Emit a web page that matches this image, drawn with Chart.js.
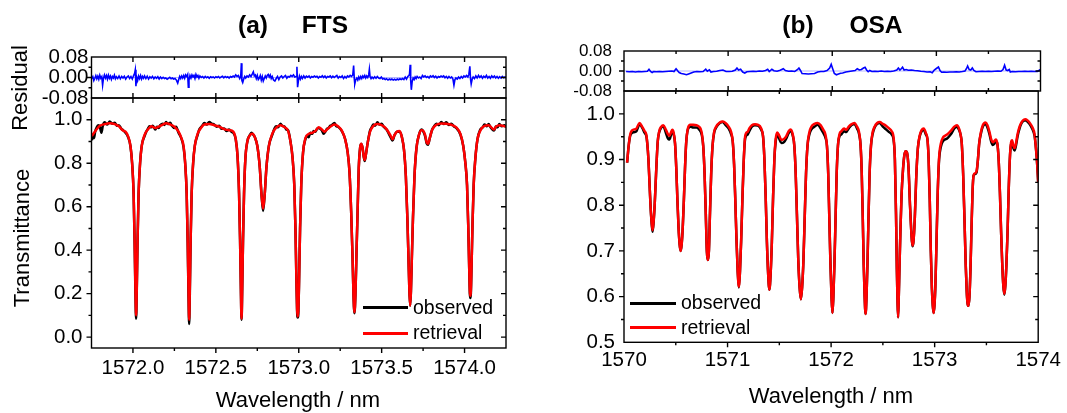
<!DOCTYPE html>
<html>
<head>
<meta charset="utf-8">
<script src="https://cdn.jsdelivr.net/npm/chart.js@4.4.1/dist/chart.umd.min.js"></script>
<style>
  body { margin: 0; background: #fff; }
  #page { position: relative; width: 1067px; height: 413px; font-family: "Liberation Sans", Arial, sans-serif; color: #000; overflow: hidden; }
  #page canvas { position: absolute; left: 0; top: 0; }
  .txt { position: absolute; white-space: pre; transform: translate(-50%, -50%); line-height: 1; }
  .vert { transform: translate(-50%, -50%) rotate(-90deg); }
  .title { font-weight: bold; font-size: 24.5px; }
  .axis { font-size: 22px; }
  .legtxt { position: absolute; font-size: 19.5px; line-height: 1; transform: translateY(-50%); white-space: pre; }
  .legln { position: absolute; height: 3px; }
</style>
</head>
<body>
<div id="page">
  <canvas id="ftsRes" width="1067" height="413"></canvas>
  <canvas id="ftsTr" width="1067" height="413"></canvas>
  <canvas id="osaRes" width="1067" height="413"></canvas>
  <canvas id="osaTr" width="1067" height="413"></canvas>

  <div class="txt title" style="left:253px;top:25px">(a)</div>
  <div class="txt title" style="left:325px;top:25px">FTS</div>
  <div class="txt title" style="left:798px;top:25px">(b)</div>
  <div class="txt title" style="left:876px;top:25px">OSA</div>

  <div class="txt axis vert" style="left:20px;top:88px">Residual</div>
  <div class="txt axis vert" style="left:22px;top:238px">Transmittance</div>
  <div class="txt axis" style="left:298px;top:400px">Wavelength / nm</div>
  <div class="txt axis" style="left:831px;top:396px">Wavelength / nm</div>

  <div class="legln" style="left:363px;top:306px;width:45px;background:#000"></div>
  <div class="legtxt" style="left:413px;top:308px">observed</div>
  <div class="legln" style="left:363px;top:332px;width:45px;background:#f00"></div>
  <div class="legtxt" style="left:413px;top:333px">retrieval</div>

  <div class="legln" style="left:630px;top:302px;width:46px;background:#000"></div>
  <div class="legtxt" style="left:681px;top:303px">observed</div>
  <div class="legln" style="left:630px;top:326px;width:46px;background:#f00"></div>
  <div class="legtxt" style="left:681px;top:327.5px">retrieval</div>
</div>

<script>
// ---- tick labels ----
const ftsWlTicks = [1572.0, 1572.5, 1573.0, 1573.5, 1574.0];
const osaWlTicks = [1570, 1571, 1572, 1573, 1574];
const ftsTrTicks = [0.0, 0.2, 0.4, 0.6, 0.8, 1.0];
const osaTrTicks = [0.5, 0.6, 0.7, 0.8, 0.9, 1.0];
const resTicks = [-0.08, 0.0, 0.08];

// ---- (a) FTS, [wavelength nm, value] ----
const ftsRetrieval = [
  [1571.752,0.925],[1571.78,0.955],[1571.80,0.972],[1571.83,0.980],[1571.86,0.984],[1571.89,0.980],
  [1571.915,0.970],[1571.94,0.950],[1571.955,0.945],[1571.97,0.925],[1571.985,0.88],[1571.995,0.80],
  [1572.004,0.66],[1572.010,0.45],[1572.015,0.22],[1572.019,0.10],[1572.023,0.22],[1572.028,0.45],
  [1572.034,0.66],[1572.043,0.80],[1572.053,0.88],[1572.07,0.93],[1572.09,0.955],[1572.11,0.970],
  [1572.135,0.962],[1572.155,0.968],[1572.18,0.978],[1572.20,0.984],[1572.225,0.978],[1572.25,0.968],
  [1572.275,0.945],[1572.29,0.92],[1572.305,0.88],[1572.315,0.80],[1572.324,0.66],[1572.330,0.45],
  [1572.335,0.22],[1572.339,0.08],[1572.343,0.22],[1572.348,0.45],[1572.354,0.66],[1572.363,0.80],
  [1572.373,0.88],[1572.39,0.935],[1572.41,0.962],[1572.43,0.978],[1572.46,0.980],[1572.49,0.975],
  [1572.52,0.968],[1572.55,0.957],[1572.58,0.952],[1572.605,0.945],[1572.62,0.91],[1572.631,0.83],
  [1572.640,0.66],[1572.646,0.45],[1572.651,0.22],[1572.655,0.085],[1572.659,0.22],[1572.664,0.45],
  [1572.670,0.66],[1572.678,0.82],[1572.690,0.90],[1572.705,0.928],[1572.72,0.935],[1572.735,0.92],
  [1572.75,0.88],[1572.765,0.78],[1572.775,0.66],[1572.785,0.59],[1572.795,0.66],[1572.805,0.78],
  [1572.82,0.88],[1572.84,0.935],[1572.865,0.965],[1572.89,0.975],[1572.915,0.965],[1572.935,0.95],
  [1572.95,0.90],[1572.962,0.83],[1572.973,0.70],[1572.980,0.50],[1572.986,0.26],[1572.990,0.13],
  [1572.994,0.095],[1572.998,0.13],[1573.002,0.26],[1573.008,0.50],[1573.015,0.70],[1573.026,0.85],
  [1573.04,0.915],[1573.06,0.935],[1573.08,0.94],[1573.10,0.948],[1573.12,0.965],[1573.14,0.955],
  [1573.155,0.945],[1573.17,0.955],[1573.19,0.968],[1573.215,0.978],[1573.24,0.968],[1573.26,0.95],
  [1573.28,0.91],[1573.295,0.85],[1573.306,0.76],[1573.316,0.58],[1573.324,0.38],[1573.330,0.20],
  [1573.336,0.115],[1573.342,0.20],[1573.348,0.38],[1573.355,0.58],[1573.362,0.78],[1573.37,0.87],
  [1573.377,0.89],[1573.385,0.87],[1573.392,0.83],[1573.398,0.815],[1573.405,0.84],[1573.415,0.89],
  [1573.43,0.945],[1573.45,0.972],[1573.475,0.980],[1573.50,0.975],[1573.52,0.965],[1573.54,0.945],
  [1573.555,0.925],[1573.566,0.91],[1573.578,0.93],[1573.592,0.945],[1573.608,0.948],[1573.622,0.92],
  [1573.635,0.86],[1573.646,0.74],[1573.655,0.55],[1573.662,0.36],[1573.667,0.22],[1573.672,0.145],
  [1573.677,0.22],[1573.682,0.36],[1573.689,0.55],[1573.698,0.74],[1573.710,0.87],[1573.725,0.93],
  [1573.74,0.952],[1573.75,0.95],[1573.762,0.93],[1573.772,0.895],[1573.78,0.89],[1573.79,0.915],
  [1573.805,0.955],[1573.83,0.977],[1573.86,0.983],[1573.89,0.982],[1573.92,0.977],[1573.95,0.965],
  [1573.975,0.935],[1573.992,0.88],[1574.005,0.80],[1574.015,0.70],[1574.022,0.52],[1574.028,0.32],
  [1574.032,0.21],[1574.035,0.19],[1574.038,0.21],[1574.042,0.32],[1574.048,0.52],[1574.055,0.70],
  [1574.065,0.82],[1574.078,0.91],[1574.095,0.95],[1574.12,0.972],[1574.145,0.975],[1574.165,0.962],
  [1574.178,0.955],[1574.19,0.968],[1574.21,0.975],[1574.23,0.972],[1574.25,0.968]
];

const ftsObserved = [
  [1571.752,0.905],[1571.758,0.93],[1571.765,0.915],[1571.772,0.945],[1571.78,0.962],[1571.79,0.975],
  [1571.80,0.968],[1571.81,0.94],[1571.818,0.972],[1571.83,0.988],[1571.845,0.978],[1571.86,0.992],
  [1571.875,0.982],[1571.89,0.986],[1571.905,0.972],[1571.915,0.975],[1571.93,0.958],[1571.94,0.952],
  [1571.955,0.94],[1571.97,0.922],[1571.985,0.878],[1571.995,0.80],[1572.004,0.66],[1572.010,0.44],
  [1572.015,0.20],[1572.019,0.085],[1572.023,0.21],[1572.028,0.45],[1572.034,0.66],[1572.043,0.80],
  [1572.053,0.88],[1572.07,0.925],[1572.08,0.945],[1572.09,0.958],[1572.10,0.97],[1572.11,0.965],
  [1572.12,0.972],[1572.135,0.955],[1572.145,0.968],[1572.155,0.962],[1572.165,0.975],[1572.18,0.982],
  [1572.19,0.976],[1572.20,0.99],[1572.21,0.98],[1572.225,0.986],[1572.235,0.972],[1572.25,0.962],
  [1572.26,0.968],[1572.275,0.94],[1572.29,0.918],[1572.305,0.875],[1572.315,0.80],[1572.324,0.66],
  [1572.330,0.44],[1572.335,0.20],[1572.339,0.06],[1572.343,0.20],[1572.348,0.45],[1572.354,0.66],
  [1572.363,0.80],[1572.373,0.88],[1572.39,0.93],[1572.40,0.955],[1572.41,0.965],[1572.42,0.975],
  [1572.43,0.985],[1572.445,0.978],[1572.46,0.99],[1572.475,0.982],[1572.49,0.978],[1572.505,0.968],
  [1572.52,0.972],[1572.535,0.958],[1572.55,0.96],[1572.565,0.948],[1572.58,0.955],[1572.595,0.944],
  [1572.605,0.94],[1572.62,0.91],[1572.631,0.83],[1572.640,0.66],[1572.646,0.45],[1572.651,0.22],
  [1572.655,0.08],[1572.659,0.22],[1572.664,0.45],[1572.670,0.66],[1572.678,0.82],[1572.690,0.90],
  [1572.705,0.93],[1572.715,0.94],[1572.725,0.932],[1572.735,0.92],[1572.75,0.88],[1572.765,0.78],
  [1572.775,0.66],[1572.785,0.58],[1572.795,0.66],[1572.805,0.78],[1572.82,0.88],[1572.84,0.93],
  [1572.855,0.962],[1572.865,0.97],[1572.875,0.965],[1572.89,0.982],[1572.90,0.972],[1572.915,0.968],
  [1572.925,0.955],[1572.935,0.952],[1572.95,0.90],[1572.962,0.83],[1572.973,0.70],[1572.980,0.50],
  [1572.986,0.26],[1572.990,0.12],[1572.994,0.09],[1572.998,0.12],[1573.002,0.26],[1573.008,0.50],
  [1573.015,0.70],[1573.026,0.85],[1573.04,0.91],[1573.05,0.925],[1573.06,0.92],[1573.07,0.94],
  [1573.08,0.935],[1573.09,0.948],[1573.10,0.945],[1573.11,0.958],[1573.12,0.962],[1573.13,0.958],
  [1573.14,0.95],[1573.15,0.935],[1573.16,0.945],[1573.17,0.958],[1573.18,0.962],[1573.19,0.972],
  [1573.20,0.975],[1573.215,0.985],[1573.225,0.972],[1573.24,0.966],[1573.26,0.948],[1573.28,0.91],
  [1573.295,0.85],[1573.306,0.76],[1573.316,0.58],[1573.324,0.38],[1573.330,0.20],[1573.336,0.11],
  [1573.342,0.20],[1573.348,0.38],[1573.355,0.58],[1573.362,0.78],[1573.37,0.87],[1573.377,0.888],
  [1573.385,0.87],[1573.392,0.83],[1573.398,0.81],[1573.405,0.84],[1573.415,0.89],[1573.43,0.95],
  [1573.44,0.965],[1573.45,0.978],[1573.46,0.972],[1573.475,0.988],[1573.485,0.978],[1573.50,0.982],
  [1573.51,0.97],[1573.52,0.962],[1573.53,0.955],[1573.54,0.94],[1573.555,0.918],[1573.566,0.905],
  [1573.578,0.93],[1573.592,0.945],[1573.608,0.946],[1573.622,0.92],[1573.635,0.86],[1573.646,0.74],
  [1573.655,0.55],[1573.662,0.36],[1573.667,0.22],[1573.672,0.145],[1573.677,0.22],[1573.682,0.36],
  [1573.689,0.55],[1573.698,0.74],[1573.710,0.87],[1573.725,0.93],[1573.74,0.955],[1573.75,0.948],
  [1573.762,0.925],[1573.772,0.89],[1573.78,0.885],[1573.79,0.915],[1573.805,0.955],[1573.815,0.968],
  [1573.83,0.982],[1573.845,0.975],[1573.86,0.99],[1573.875,0.98],[1573.89,0.988],[1573.905,0.976],
  [1573.92,0.982],[1573.935,0.97],[1573.95,0.962],[1573.975,0.932],[1573.992,0.88],[1574.005,0.80],
  [1574.015,0.70],[1574.022,0.52],[1574.028,0.32],[1574.032,0.2],[1574.035,0.18],[1574.038,0.2],
  [1574.042,0.32],[1574.048,0.52],[1574.055,0.70],[1574.065,0.82],[1574.078,0.91],[1574.095,0.955],
  [1574.11,0.965],[1574.12,0.978],[1574.135,0.97],[1574.145,0.98],[1574.155,0.968],[1574.165,0.958],
  [1574.178,0.95],[1574.19,0.97],[1574.20,0.965],[1574.21,0.98],[1574.225,0.97],[1574.24,0.975],[1574.25,0.966]
];

const ftsResidual = [
  [1571.752,-0.004],[1571.758,0.003],[1571.764,-0.012],[1571.770,-0.003],[1571.776,0.007],[1571.782,-0.005],
  [1571.788,0.005],[1571.794,-0.007],[1571.800,0.009],[1571.806,-0.003],[1571.812,0.003],[1571.817,-0.030],
  [1571.822,-0.004],[1571.828,0.010],[1571.834,-0.002],[1571.840,0.008],[1571.846,-0.006],[1571.852,0.009],
  [1571.858,-0.003],[1571.864,0.006],[1571.870,-0.007],[1571.876,0.004],[1571.882,-0.002],[1571.888,0.009],
  [1571.894,-0.005],[1571.900,0.003],[1571.908,-0.004],[1571.916,0.006],[1571.924,-0.005],[1571.932,0.004],
  [1571.940,-0.002],[1571.948,0.005],[1571.956,-0.006],[1571.964,0.002],[1571.972,0.006],[1571.980,-0.004],
  [1571.988,0.004],[1571.996,-0.006],[1572.004,0.008],[1572.010,0.016],[1572.014,0.030],[1572.018,-0.034],
  [1572.022,0.002],[1572.028,-0.012],[1572.034,0.006],[1572.040,-0.004],[1572.046,0.008],[1572.052,-0.006],
  [1572.058,0.004],[1572.064,-0.003],[1572.070,0.006],[1572.078,-0.004],[1572.086,0.005],[1572.094,-0.006],
  [1572.102,0.003],[1572.110,-0.002],[1572.118,0.004],[1572.126,-0.005],[1572.134,0.002],[1572.142,-0.003],
  [1572.150,0.003],[1572.158,-0.006],[1572.166,0.002],[1572.174,-0.004],[1572.182,0.001],[1572.190,-0.004],
  [1572.198,-0.002],[1572.206,-0.007],[1572.214,-0.003],[1572.222,0.001],[1572.230,-0.005],[1572.238,-0.002],
  [1572.246,-0.006],[1572.254,-0.004],[1572.262,-0.010],[1572.270,-0.022],[1572.276,-0.008],[1572.282,0.004],
  [1572.288,-0.004],[1572.294,0.006],[1572.300,-0.002],[1572.306,0.008],[1572.312,-0.003],[1572.318,0.010],
  [1572.324,0.004],[1572.330,0.012],[1572.334,-0.038],[1572.338,-0.010],[1572.344,0.008],[1572.350,-0.002],
  [1572.356,0.010],[1572.362,0.002],[1572.368,0.008],[1572.374,-0.004],[1572.380,0.012],[1572.386,0.002],
  [1572.392,0.008],[1572.398,-0.003],[1572.404,0.006],[1572.412,0.000],[1572.420,0.004],[1572.428,-0.002],
  [1572.436,0.004],[1572.444,-0.001],[1572.452,0.003],[1572.460,-0.003],[1572.468,0.003],[1572.476,0.000],
  [1572.484,0.002],[1572.492,-0.002],[1572.500,0.003],[1572.508,0.000],[1572.516,0.004],[1572.524,-0.002],
  [1572.532,0.002],[1572.540,0.005],[1572.548,-0.001],[1572.556,0.004],[1572.564,0.000],[1572.572,0.003],
  [1572.580,-0.002],[1572.588,0.004],[1572.596,0.001],[1572.604,0.006],[1572.612,0.002],[1572.620,0.010],
  [1572.628,0.004],[1572.636,0.008],[1572.644,-0.004],[1572.650,0.004],[1572.654,0.056],[1572.657,-0.012],
  [1572.662,-0.020],[1572.668,-0.006],[1572.674,0.004],[1572.680,-0.002],[1572.688,0.006],[1572.696,0.002],
  [1572.704,0.010],[1572.712,0.004],[1572.720,0.014],[1572.726,0.022],[1572.732,0.006],[1572.738,0.010],
  [1572.744,-0.004],[1572.750,0.008],[1572.756,-0.008],[1572.762,-0.002],[1572.768,0.008],[1572.774,-0.010],
  [1572.780,0.004],[1572.786,-0.014],[1572.792,-0.004],[1572.798,0.006],[1572.804,-0.002],[1572.810,0.008],
  [1572.816,0.012],[1572.822,0.002],[1572.828,0.010],[1572.834,-0.004],[1572.840,0.004],[1572.848,-0.010],
  [1572.856,-0.014],[1572.864,-0.004],[1572.872,0.004],[1572.880,-0.008],[1572.888,0.002],[1572.896,0.006],
  [1572.904,-0.002],[1572.912,0.004],[1572.920,0.008],[1572.928,-0.003],[1572.936,0.004],[1572.944,0.002],
  [1572.952,0.008],[1572.960,0.004],[1572.968,0.010],[1572.976,0.002],[1572.984,0.004],[1572.989,0.042],
  [1572.993,-0.038],[1572.998,-0.012],[1573.004,0.006],[1573.010,-0.006],[1573.016,0.004],[1573.022,-0.004],
  [1573.030,0.006],[1573.038,-0.002],[1573.046,0.005],[1573.054,0.001],[1573.062,0.006],[1573.070,-0.002],
  [1573.078,0.004],[1573.086,0.001],[1573.094,0.006],[1573.102,0.002],[1573.110,0.005],[1573.118,-0.002],
  [1573.126,0.004],[1573.134,0.001],[1573.142,0.007],[1573.150,0.000],[1573.158,0.006],[1573.166,-0.002],
  [1573.174,0.004],[1573.182,0.002],[1573.190,0.006],[1573.198,-0.001],[1573.206,0.005],[1573.214,0.000],
  [1573.222,0.004],[1573.230,0.008],[1573.238,-0.002],[1573.246,0.004],[1573.254,0.000],[1573.262,0.006],
  [1573.270,-0.004],[1573.278,0.004],[1573.286,-0.002],[1573.294,0.006],[1573.302,0.002],[1573.310,0.008],
  [1573.318,0.004],[1573.326,0.010],[1573.331,0.047],[1573.335,-0.006],[1573.338,-0.025],[1573.344,-0.008],
  [1573.350,-0.002],[1573.356,-0.010],[1573.362,0.002],[1573.368,-0.006],[1573.374,0.004],[1573.380,-0.004],
  [1573.386,0.006],[1573.392,0.000],[1573.398,0.008],[1573.404,-0.002],[1573.410,0.006],[1573.416,0.000],
  [1573.422,0.010],[1573.426,0.032],[1573.430,0.004],[1573.436,-0.004],[1573.442,0.002],[1573.450,-0.004],
  [1573.458,0.003],[1573.466,-0.003],[1573.474,0.004],[1573.482,-0.002],[1573.490,-0.004],[1573.498,0.002],
  [1573.506,-0.006],[1573.514,-0.004],[1573.522,-0.008],[1573.530,-0.005],[1573.538,-0.010],[1573.546,-0.006],
  [1573.554,-0.009],[1573.562,-0.006],[1573.570,-0.010],[1573.578,-0.007],[1573.586,-0.010],[1573.594,-0.006],
  [1573.602,-0.009],[1573.610,-0.005],[1573.618,-0.008],[1573.626,-0.004],[1573.634,-0.008],[1573.642,0.002],
  [1573.650,-0.006],[1573.658,0.004],[1573.664,0.008],[1573.668,0.012],[1573.672,0.050],[1573.675,-0.010],
  [1573.679,-0.048],[1573.684,-0.016],[1573.690,-0.002],[1573.696,-0.008],[1573.702,0.002],[1573.708,-0.004],
  [1573.714,0.004],[1573.722,-0.002],[1573.730,0.002],[1573.738,-0.004],[1573.746,0.008],[1573.754,0.002],
  [1573.762,0.006],[1573.770,0.000],[1573.778,0.004],[1573.786,-0.002],[1573.794,0.006],[1573.802,0.002],
  [1573.810,0.007],[1573.818,0.000],[1573.826,0.005],[1573.834,-0.002],[1573.842,0.004],[1573.850,0.001],
  [1573.858,0.006],[1573.866,0.002],[1573.874,0.006],[1573.882,-0.001],[1573.890,0.004],[1573.898,-0.003],
  [1573.906,0.004],[1573.914,-0.002],[1573.922,0.002],[1573.930,-0.006],[1573.936,-0.030],[1573.942,-0.008],
  [1573.948,-0.002],[1573.956,-0.006],[1573.964,0.002],[1573.972,-0.004],[1573.980,0.004],[1573.988,-0.002],
  [1573.996,0.006],[1574.004,0.002],[1574.012,0.008],[1574.020,0.002],[1574.026,0.012],[1574.032,0.044],
  [1574.036,-0.006],[1574.040,-0.025],[1574.046,-0.006],[1574.052,0.002],[1574.060,-0.004],[1574.068,0.006],
  [1574.076,-0.002],[1574.084,0.008],[1574.092,0.000],[1574.100,0.006],[1574.108,-0.003],[1574.116,0.005],
  [1574.124,0.000],[1574.132,0.008],[1574.140,-0.002],[1574.148,0.004],[1574.156,-0.003],[1574.164,0.006],
  [1574.172,0.000],[1574.180,0.006],[1574.188,-0.002],[1574.196,0.004],[1574.204,-0.003],[1574.212,0.003],
  [1574.220,-0.002],[1574.228,0.004],[1574.236,-0.001],[1574.244,0.002],[1574.250,-0.001]
];

// ---- (b) OSA, [wavelength nm, value] ----
const osaRetrieval = [
  [1570.03,0.893],[1570.045,0.93],[1570.06,0.955],[1570.075,0.963],[1570.10,0.966],[1570.12,0.968],
  [1570.15,0.980],[1570.175,0.972],[1570.20,0.962],[1570.215,0.955],[1570.225,0.935],[1570.236,0.90],
  [1570.246,0.85],[1570.256,0.80],[1570.266,0.765],[1570.276,0.745],[1570.286,0.765],[1570.296,0.80],
  [1570.306,0.85],[1570.316,0.90],[1570.326,0.94],[1570.34,0.962],[1570.36,0.972],[1570.38,0.975],
  [1570.405,0.965],[1570.425,0.955],[1570.44,0.952],[1570.455,0.960],[1570.467,0.965],[1570.48,0.958],
  [1570.493,0.935],[1570.505,0.88],[1570.516,0.81],[1570.527,0.75],[1570.537,0.715],[1570.547,0.70],
  [1570.557,0.715],[1570.567,0.75],[1570.578,0.81],[1570.589,0.88],[1570.60,0.935],[1570.617,0.968],
  [1570.64,0.976],[1570.67,0.976],[1570.70,0.975],[1570.725,0.972],[1570.75,0.96],[1570.765,0.93],
  [1570.778,0.87],[1570.79,0.78],[1570.80,0.70],[1570.81,0.68],[1570.82,0.70],[1570.83,0.78],
  [1570.842,0.87],[1570.855,0.93],[1570.87,0.96],[1570.89,0.972],[1570.925,0.981],[1570.955,0.983],
  [1570.98,0.98],[1571.01,0.972],[1571.035,0.96],[1571.05,0.94],[1571.063,0.89],[1571.075,0.81],
  [1571.087,0.72],[1571.098,0.655],[1571.109,0.622],[1571.12,0.655],[1571.131,0.72],[1571.143,0.81],
  [1571.155,0.89],[1571.167,0.945],[1571.18,0.958],[1571.195,0.961],[1571.21,0.968],[1571.235,0.975],
  [1571.265,0.977],[1571.295,0.976],[1571.325,0.968],[1571.343,0.95],[1571.356,0.90],[1571.368,0.82],
  [1571.38,0.72],[1571.392,0.65],[1571.404,0.615],[1571.416,0.65],[1571.428,0.72],[1571.44,0.82],
  [1571.452,0.90],[1571.465,0.945],[1571.48,0.959],[1571.50,0.952],[1571.52,0.943],[1571.545,0.945],
  [1571.565,0.95],[1571.59,0.962],[1571.61,0.966],[1571.63,0.955],[1571.645,0.93],[1571.658,0.87],
  [1571.67,0.78],[1571.683,0.68],[1571.696,0.62],[1571.708,0.594],[1571.72,0.62],[1571.733,0.68],
  [1571.746,0.78],[1571.758,0.87],[1571.772,0.93],[1571.79,0.96],[1571.81,0.972],[1571.84,0.978],
  [1571.87,0.98],[1571.90,0.975],[1571.925,0.965],[1571.945,0.955],[1571.96,0.93],[1571.972,0.87],
  [1571.983,0.77],[1571.994,0.67],[1572.004,0.60],[1572.013,0.564],[1572.022,0.60],[1572.032,0.67],
  [1572.043,0.77],[1572.054,0.87],[1572.066,0.93],[1572.08,0.955],[1572.10,0.962],[1572.125,0.968],
  [1572.145,0.965],[1572.17,0.972],[1572.195,0.977],[1572.225,0.98],[1572.25,0.972],[1572.27,0.96],
  [1572.285,0.93],[1572.296,0.87],[1572.306,0.77],[1572.315,0.67],[1572.324,0.60],[1572.333,0.562],
  [1572.342,0.60],[1572.351,0.67],[1572.361,0.77],[1572.372,0.87],[1572.385,0.93],[1572.40,0.958],
  [1572.42,0.972],[1572.445,0.98],[1572.47,0.982],[1572.50,0.978],[1572.53,0.974],[1572.56,0.968],
  [1572.585,0.962],[1572.605,0.945],[1572.616,0.90],[1572.627,0.78],[1572.635,0.66],[1572.641,0.595],
  [1572.647,0.555],[1572.653,0.595],[1572.66,0.66],[1572.669,0.74],[1572.68,0.82],[1572.695,0.88],
  [1572.708,0.91],[1572.72,0.918],[1572.733,0.915],[1572.748,0.88],[1572.762,0.80],[1572.775,0.74],
  [1572.785,0.712],[1572.795,0.72],[1572.808,0.77],[1572.822,0.86],[1572.838,0.925],[1572.855,0.952],
  [1572.875,0.965],[1572.895,0.968],[1572.915,0.958],[1572.93,0.945],[1572.942,0.90],[1572.953,0.81],
  [1572.963,0.70],[1572.973,0.62],[1572.982,0.58],[1572.99,0.564],[1572.998,0.58],[1573.008,0.63],
  [1573.018,0.72],[1573.03,0.83],[1573.043,0.905],[1573.06,0.935],[1573.08,0.948],[1573.10,0.952],
  [1573.12,0.955],[1573.145,0.96],[1573.165,0.965],[1573.19,0.972],[1573.215,0.975],[1573.235,0.968],
  [1573.25,0.955],[1573.262,0.935],[1573.275,0.87],[1573.288,0.77],[1573.30,0.67],[1573.31,0.61],
  [1573.318,0.585],[1573.327,0.58],[1573.336,0.60],[1573.346,0.66],[1573.356,0.75],[1573.366,0.83],
  [1573.376,0.865],[1573.39,0.87],[1573.405,0.875],[1573.418,0.90],[1573.43,0.935],[1573.445,0.958],
  [1573.465,0.975],[1573.49,0.981],[1573.51,0.975],[1573.53,0.96],[1573.545,0.945],[1573.56,0.938],
  [1573.575,0.94],[1573.59,0.944],[1573.605,0.935],[1573.618,0.90],[1573.63,0.83],[1573.642,0.74],
  [1573.653,0.67],[1573.663,0.625],[1573.673,0.606],[1573.683,0.625],[1573.693,0.67],[1573.704,0.74],
  [1573.716,0.84],[1573.728,0.91],[1573.74,0.94],[1573.748,0.942],[1573.76,0.93],[1573.772,0.925],
  [1573.785,0.935],[1573.80,0.955],[1573.82,0.972],[1573.84,0.982],[1573.86,0.987],[1573.88,0.988],
  [1573.90,0.985],[1573.925,0.978],[1573.945,0.97],[1573.965,0.955],[1573.98,0.92],[1573.99,0.89],[1574.0,0.85]
];

const osaObserved = [
  [1570.03,0.893],[1570.045,0.93],[1570.06,0.952],[1570.075,0.958],[1570.10,0.960],[1570.12,0.962],
  [1570.15,0.977],[1570.175,0.970],[1570.20,0.958],[1570.215,0.952],[1570.225,0.935],[1570.236,0.90],
  [1570.246,0.85],[1570.256,0.80],[1570.266,0.763],[1570.276,0.742],[1570.286,0.763],[1570.296,0.80],
  [1570.306,0.85],[1570.316,0.90],[1570.326,0.94],[1570.34,0.96],[1570.36,0.97],[1570.38,0.973],
  [1570.405,0.958],[1570.425,0.946],[1570.44,0.944],[1570.455,0.955],[1570.467,0.962],[1570.48,0.955],
  [1570.493,0.935],[1570.505,0.88],[1570.516,0.81],[1570.527,0.75],[1570.537,0.715],[1570.547,0.70],
  [1570.557,0.715],[1570.567,0.75],[1570.578,0.81],[1570.589,0.88],[1570.60,0.935],[1570.617,0.966],
  [1570.64,0.972],[1570.67,0.970],[1570.70,0.970],[1570.725,0.966],[1570.75,0.955],[1570.765,0.93],
  [1570.778,0.87],[1570.79,0.78],[1570.80,0.70],[1570.81,0.68],[1570.82,0.70],[1570.83,0.78],
  [1570.842,0.87],[1570.855,0.93],[1570.87,0.958],[1570.89,0.97],[1570.925,0.98],[1570.955,0.982],
  [1570.98,0.976],[1571.01,0.968],[1571.035,0.955],[1571.05,0.94],[1571.063,0.89],[1571.075,0.81],
  [1571.087,0.72],[1571.098,0.655],[1571.109,0.62],[1571.12,0.655],[1571.131,0.72],[1571.143,0.81],
  [1571.155,0.89],[1571.167,0.94],[1571.18,0.952],[1571.195,0.955],[1571.21,0.962],[1571.235,0.972],
  [1571.265,0.975],[1571.295,0.974],[1571.325,0.965],[1571.343,0.95],[1571.356,0.90],[1571.368,0.82],
  [1571.38,0.72],[1571.392,0.65],[1571.404,0.615],[1571.416,0.65],[1571.428,0.72],[1571.44,0.82],
  [1571.452,0.90],[1571.465,0.94],[1571.48,0.955],[1571.50,0.945],[1571.52,0.936],[1571.545,0.938],
  [1571.565,0.945],[1571.59,0.958],[1571.61,0.963],[1571.63,0.952],[1571.645,0.93],[1571.658,0.87],
  [1571.67,0.78],[1571.683,0.68],[1571.696,0.62],[1571.708,0.594],[1571.72,0.62],[1571.733,0.68],
  [1571.746,0.78],[1571.758,0.87],[1571.772,0.93],[1571.79,0.955],[1571.81,0.966],[1571.84,0.972],
  [1571.87,0.976],[1571.90,0.968],[1571.925,0.958],[1571.945,0.948],[1571.96,0.93],[1571.972,0.87],
  [1571.983,0.77],[1571.994,0.67],[1572.004,0.60],[1572.013,0.564],[1572.022,0.60],[1572.032,0.67],
  [1572.043,0.77],[1572.054,0.87],[1572.066,0.93],[1572.08,0.95],[1572.10,0.955],[1572.125,0.962],
  [1572.145,0.96],[1572.17,0.968],[1572.195,0.975],[1572.225,0.978],[1572.25,0.968],[1572.27,0.956],
  [1572.285,0.93],[1572.296,0.87],[1572.306,0.77],[1572.315,0.67],[1572.324,0.60],[1572.333,0.562],
  [1572.342,0.60],[1572.351,0.67],[1572.361,0.77],[1572.372,0.87],[1572.385,0.93],[1572.40,0.955],
  [1572.42,0.97],[1572.445,0.978],[1572.47,0.98],[1572.50,0.972],[1572.53,0.966],[1572.56,0.96],
  [1572.585,0.955],[1572.605,0.94],[1572.616,0.90],[1572.627,0.78],[1572.635,0.66],[1572.641,0.595],
  [1572.647,0.555],[1572.653,0.595],[1572.66,0.66],[1572.669,0.74],[1572.68,0.82],[1572.695,0.88],
  [1572.708,0.91],[1572.72,0.918],[1572.733,0.915],[1572.748,0.88],[1572.762,0.80],[1572.775,0.74],
  [1572.785,0.71],[1572.795,0.72],[1572.808,0.77],[1572.822,0.86],[1572.838,0.925],[1572.855,0.95],
  [1572.875,0.962],[1572.895,0.965],[1572.915,0.955],[1572.93,0.945],[1572.942,0.90],[1572.953,0.81],
  [1572.963,0.70],[1572.973,0.62],[1572.982,0.58],[1572.99,0.564],[1572.998,0.58],[1573.008,0.63],
  [1573.018,0.72],[1573.03,0.83],[1573.043,0.9],[1573.06,0.928],[1573.08,0.94],[1573.10,0.944],
  [1573.12,0.946],[1573.145,0.952],[1573.165,0.958],[1573.19,0.968],[1573.215,0.972],[1573.235,0.965],
  [1573.25,0.955],[1573.262,0.935],[1573.275,0.87],[1573.288,0.77],[1573.30,0.67],[1573.31,0.61],
  [1573.318,0.585],[1573.327,0.58],[1573.336,0.60],[1573.346,0.66],[1573.356,0.75],[1573.366,0.83],
  [1573.376,0.865],[1573.39,0.868],[1573.405,0.872],[1573.418,0.90],[1573.43,0.935],[1573.445,0.955],
  [1573.465,0.972],[1573.49,0.978],[1573.51,0.97],[1573.53,0.955],[1573.545,0.94],[1573.56,0.932],
  [1573.575,0.934],[1573.59,0.94],[1573.605,0.935],[1573.618,0.90],[1573.63,0.83],[1573.642,0.74],
  [1573.653,0.67],[1573.663,0.625],[1573.673,0.604],[1573.683,0.625],[1573.693,0.67],[1573.704,0.74],
  [1573.716,0.84],[1573.728,0.91],[1573.74,0.935],[1573.748,0.936],[1573.76,0.925],[1573.772,0.92],
  [1573.785,0.93],[1573.80,0.95],[1573.82,0.968],[1573.84,0.98],[1573.86,0.985],[1573.88,0.986],
  [1573.90,0.982],[1573.925,0.975],[1573.945,0.966],[1573.965,0.952],[1573.98,0.92],[1573.99,0.89],[1574.0,0.85]
];

const osaResidual = [
  [1570.02,-0.002],[1570.05,-0.003],[1570.08,-0.002],[1570.11,-0.004],[1570.14,-0.002],[1570.17,-0.003],
  [1570.20,-0.002],[1570.225,-0.001],[1570.24,0.007],[1570.255,-0.002],[1570.27,-0.006],[1570.285,-0.002],
  [1570.31,-0.003],[1570.34,-0.002],[1570.37,-0.003],[1570.40,-0.002],[1570.43,-0.001],[1570.46,0.000],
  [1570.48,-0.002],[1570.50,0.009],[1570.515,0.001],[1570.53,-0.006],[1570.55,-0.010],[1570.575,-0.012],
  [1570.60,-0.015],[1570.62,-0.012],[1570.645,-0.008],[1570.67,-0.004],[1570.70,-0.002],[1570.73,-0.003],
  [1570.76,-0.002],[1570.785,0.007],[1570.80,-0.001],[1570.82,0.005],[1570.835,-0.004],[1570.86,-0.002],
  [1570.89,-0.001],[1570.92,0.002],[1570.95,0.004],[1570.98,-0.002],[1571.01,-0.002],[1571.04,-0.001],
  [1571.07,0.004],[1571.085,0.012],[1571.10,0.004],[1571.12,0.007],[1571.14,-0.004],[1571.16,-0.008],
  [1571.18,-0.003],[1571.21,-0.002],[1571.24,-0.001],[1571.27,-0.002],[1571.30,0.000],[1571.33,-0.001],
  [1571.36,0.002],[1571.38,0.007],[1571.395,-0.002],[1571.42,0.007],[1571.44,0.001],[1571.47,-0.001],
  [1571.50,0.003],[1571.53,0.009],[1571.55,0.002],[1571.58,-0.001],[1571.61,0.000],[1571.64,-0.002],
  [1571.665,0.005],[1571.68,0.012],[1571.695,0.002],[1571.71,-0.010],[1571.74,-0.011],[1571.77,-0.012],
  [1571.80,-0.011],[1571.83,-0.010],[1571.86,-0.004],[1571.89,-0.002],[1571.92,-0.002],[1571.95,0.002],
  [1571.975,0.012],[1571.99,0.027],[1572.005,0.008],[1572.02,-0.010],[1572.04,-0.015],[1572.06,-0.012],
  [1572.08,-0.009],[1572.10,-0.008],[1572.13,-0.004],[1572.16,-0.002],[1572.19,0.000],[1572.22,0.002],
  [1572.24,0.009],[1572.26,0.004],[1572.28,0.006],[1572.30,0.012],[1572.315,0.015],[1572.33,0.004],
  [1572.345,-0.003],[1572.36,0.002],[1572.38,-0.002],[1572.41,-0.001],[1572.44,-0.002],[1572.47,0.000],
  [1572.50,-0.002],[1572.53,-0.001],[1572.56,-0.002],[1572.59,0.000],[1572.62,0.004],[1572.635,0.012],
  [1572.65,0.004],[1572.665,0.010],[1572.675,0.015],[1572.69,0.004],[1572.71,0.006],[1572.73,0.003],
  [1572.76,0.004],[1572.79,0.002],[1572.82,0.001],[1572.85,-0.001],[1572.88,-0.002],[1572.91,-0.004],
  [1572.94,-0.003],[1572.96,-0.007],[1572.98,0.004],[1573.00,0.010],[1573.02,0.016],[1573.035,0.002],
  [1573.05,-0.005],[1573.07,-0.004],[1573.10,-0.005],[1573.13,-0.004],[1573.16,-0.004],[1573.19,-0.003],
  [1573.22,-0.004],[1573.25,-0.002],[1573.275,0.000],[1573.29,0.010],[1573.30,0.020],[1573.315,0.006],
  [1573.33,0.004],[1573.345,0.012],[1573.36,0.002],[1573.38,-0.003],[1573.41,-0.002],[1573.44,-0.001],
  [1573.47,-0.002],[1573.50,-0.001],[1573.53,-0.002],[1573.56,-0.001],[1573.59,0.000],[1573.62,-0.001],
  [1573.64,0.006],[1573.655,0.023],[1573.67,0.004],[1573.685,0.002],[1573.70,0.006],[1573.71,-0.004],
  [1573.73,-0.002],[1573.76,-0.003],[1573.79,-0.002],[1573.82,-0.002],[1573.85,-0.001],[1573.88,-0.002],
  [1573.91,-0.001],[1573.94,-0.002],[1573.97,-0.002],[1574.0,0.006]
];

// ---- drawing ----
const FONT = '"Liberation Sans", Arial, sans-serif';
Chart.defaults.font.family = FONT;
Chart.defaults.color = '#000';

// box, tick marks and zero line in Origin style
const framePlugin = {
  id: 'frame',
  beforeDatasetsDraw(chart, args, opts) {
    if (!opts.zeroLine) return;
    const { ctx, chartArea: a } = chart;
    const y = chart.scales.y.getPixelForValue(0);
    ctx.save();
    ctx.strokeStyle = 'rgba(90,90,255,0.45)';
    ctx.lineWidth = 1;
    ctx.beginPath();
    ctx.moveTo(a.left, y);
    ctx.lineTo(a.right, y);
    ctx.stroke();
    ctx.restore();
  },
  afterDatasetsDraw(chart, args, opts) {
    const { ctx, chartArea: a } = chart;
    ctx.save();
    ctx.strokeStyle = '#000';
    ctx.lineWidth = 1.4;
    ctx.strokeRect(a.left, a.top, a.right - a.left, a.bottom - a.top);
    const marks = (scale) => {
      const maj = scale.ticks.map(t => t.value);
      const half = (maj[1] - maj[0]) / 2;
      let v = maj[0];
      while (v - half > scale.min - 1e-9) v -= half;
      const out = [];
      for (; v < scale.max + 1e-9; v += half) {
        if (v <= scale.min + 1e-9 || v >= scale.max - 1e-9) continue;
        out.push({ px: scale.getPixelForValue(v), major: maj.some(m => Math.abs(m - v) < 1e-6) });
      }
      return out;
    };
    ctx.beginPath();
    marks(chart.scales.x).forEach(m => {
      const len = m.major ? 5 : 3;
      const b = opts.bottom === 'out' ? len : -len;
      ctx.moveTo(m.px, a.bottom); ctx.lineTo(m.px, a.bottom + b);
      ctx.moveTo(m.px, a.top); ctx.lineTo(m.px, a.top + len);
    });
    marks(chart.scales.y).forEach(m => {
      const len = m.major ? 5 : 3;
      ctx.moveTo(a.left, m.px); ctx.lineTo(a.left - len, m.px);
      ctx.moveTo(a.right, m.px); ctx.lineTo(a.right - len, m.px);
    });
    ctx.stroke();
    ctx.restore();
  }
};

function makeChart(id, datasets, area, x, y, opts) {
  const YW = 70;
  const XH = opts.showX ? 42 : 0;
  return new Chart(document.getElementById(id), {
    type: 'line',
    data: { datasets },
    options: {
      responsive: false,
      animation: false,
      events: [],
      layout: { padding: { left: area.left - YW, right: 1067 - area.right, top: area.top, bottom: 413 - area.bottom - XH } },
      plugins: { legend: { display: false }, tooltip: { enabled: false }, frame: { zeroLine: !!opts.zeroLine, bottom: opts.showX ? 'out' : 'in' } },
      elements: { point: { radius: 0 } },
      scales: {
        x: {
          type: 'linear', min: x.min, max: x.max, display: opts.showX,
          grid: { display: false, drawTicks: false }, border: { display: false },
          afterBuildTicks: s => { s.ticks = x.ticks.map(v => ({ value: v })); },
          afterFit: s => { s.height = XH; },
          ticks: { autoSkip: false, maxRotation: 0, padding: x.pad, font: { size: 20.5 }, callback: v => v.toFixed(x.dec) }
        },
        y: {
          type: 'linear', min: y.min, max: y.max,
          grid: { display: false, drawTicks: false }, border: { display: false },
          afterBuildTicks: s => { s.ticks = y.ticks.map(v => ({ value: v })); },
          afterFit: s => { s.width = YW; },
          ticks: { autoSkip: false, padding: y.pad, font: { size: y.size || 20.5 }, callback: v => v.toFixed(y.dec) }
        }
      }
    },
    plugins: [framePlugin]
  });
}

const red = (data) => ({ data, borderColor: '#ff0000', borderWidth: 2.5, cubicInterpolationMode: 'monotone' });
const black = (data) => ({ data, borderColor: '#000000', borderWidth: 2.5, cubicInterpolationMode: 'monotone' });
const blue = (data) => ({ data, borderColor: '#0000ff', borderWidth: 1.6, tension: 0 });

makeChart('ftsRes', [blue(ftsResidual)],
  { left: 91.5, right: 506, top: 57, bottom: 98 },
  { min: 1571.75, max: 1574.25, ticks: ftsWlTicks, dec: 1, pad: 8 },
  { min: -0.08, max: 0.08, ticks: resTicks, dec: 2, pad: 3, size: 20.5 },
  { showX: false, zeroLine: true });

makeChart('ftsTr', [red(ftsRetrieval), black(ftsObserved)],
  { left: 91.5, right: 506, top: 98, bottom: 348 },
  { min: 1571.75, max: 1574.25, ticks: ftsWlTicks, dec: 1, pad: 8 },
  { min: -0.05, max: 1.1, ticks: ftsTrTicks, dec: 1, pad: 9 },
  { showX: true });

makeChart('osaRes', [blue(osaResidual)],
  { left: 624, right: 1040.5, top: 51, bottom: 91 },
  { min: 1570, max: 1574, ticks: osaWlTicks, dec: 0, pad: 6 },
  { min: -0.08, max: 0.08, ticks: resTicks, dec: 2, pad: 12, size: 17 },
  { showX: false, zeroLine: true });

makeChart('osaTr', [red(osaRetrieval), black(osaObserved)],
  { left: 624, right: 1040.5, top: 91, bottom: 342.3 },
  { min: 1570, max: 1574, ticks: osaWlTicks, dec: 0, pad: 6 },
  { min: 0.5, max: 1.05, ticks: osaTrTicks, dec: 1, pad: 9 },
  { showX: true });
</script>
</body>
</html>
